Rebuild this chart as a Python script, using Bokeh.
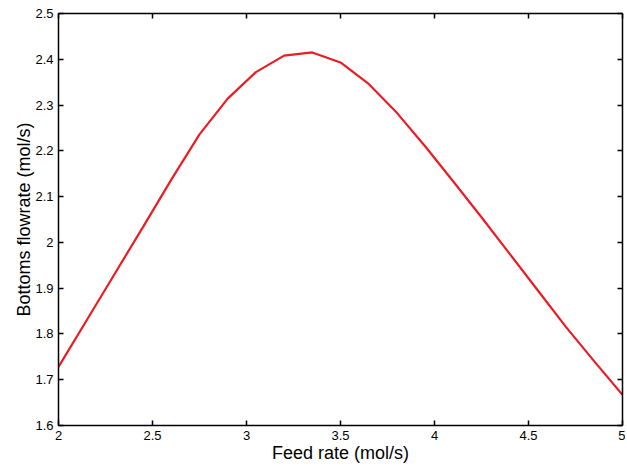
from bokeh.plotting import figure
from bokeh.models import LinearAxis, FixedTicker, Range1d
from bokeh.embed import file_html
from bokeh.resources import INLINE

feed_rate = [2.0, 2.15, 2.3, 2.45, 2.6, 2.75, 2.9, 3.05, 3.2, 3.35, 3.5,
             3.65, 3.8, 3.95, 4.1, 4.25, 4.4, 4.55, 4.7, 4.85, 5.0]
bottoms = [1.728, 1.830, 1.932, 2.034, 2.137, 2.236, 2.314, 2.372, 2.408, 2.415, 2.393,
           2.346, 2.283, 2.210, 2.133, 2.055, 1.975, 1.895, 1.815, 1.740, 1.667]

x_ticks = [2.0, 2.5, 3.0, 3.5, 4.0, 4.5, 5.0]
x_tick_labels = ["2", "2.5", "3", "3.5", "4", "4.5", "5"]
y_ticks = [1.6, 1.7, 1.8, 1.9, 2.0, 2.1, 2.2, 2.3, 2.4, 2.5]
y_tick_labels = ["1.6", "1.7", "1.8", "1.9", "2", "2.1", "2.2", "2.3", "2.4", "2.5"]

FONT = "Liberation Sans"

p = figure(width=625, height=466, output_backend="svg", toolbar_location=None,
           x_range=Range1d(2, 5), y_range=Range1d(1.6, 2.5),
           min_border_left=58, min_border_right=3, min_border_top=13, min_border_bottom=41,
           x_axis_label="Feed rate (mol/s)", y_axis_label="Bottoms flowrate (mol/s)")
p.xgrid.visible = False
p.ygrid.visible = False
p.outline_line_color = "black"
p.outline_line_width = 1

p.line(feed_rate, bottoms, line_color="#ec1c24", line_width=2.2)

def style(ax, ticks, labels, show_labels):
    ax.ticker = FixedTicker(ticks=ticks)
    ax.major_tick_in = 5
    ax.major_tick_out = 0
    ax.minor_tick_in = 0
    ax.minor_tick_out = 0
    ax.axis_line_width = 1.5
    ax.axis_line_color = "black"
    ax.major_tick_line_width = 1.5
    ax.major_tick_line_color = "black"
    if show_labels:
        ax.major_label_overrides = {t: l for t, l in zip(ticks, labels)}
        ax.major_label_text_font = FONT
        ax.major_label_text_font_size = "13px"
        ax.major_label_text_color = "black"
        ax.major_label_standoff = 5
        ax.axis_label_text_font = FONT
        ax.axis_label_text_font_size = "18px"
        ax.axis_label_text_font_style = "normal"
        ax.axis_label_text_color = "black"
    else:
        ax.major_label_overrides = {t: "" for t in ticks}
        ax.major_label_standoff = 0

style(p.xaxis[0], x_ticks, x_tick_labels, True)
style(p.yaxis[0], y_ticks, y_tick_labels, True)
p.xaxis[0].axis_label_standoff = 0
p.yaxis[0].axis_label_standoff = -2

top = LinearAxis()
style(top, x_ticks, x_tick_labels, False)
p.add_layout(top, "above")
right = LinearAxis()
style(right, y_ticks, y_tick_labels, False)
p.add_layout(right, "right")

open("out.html", "w").write(file_html(p, INLINE))
